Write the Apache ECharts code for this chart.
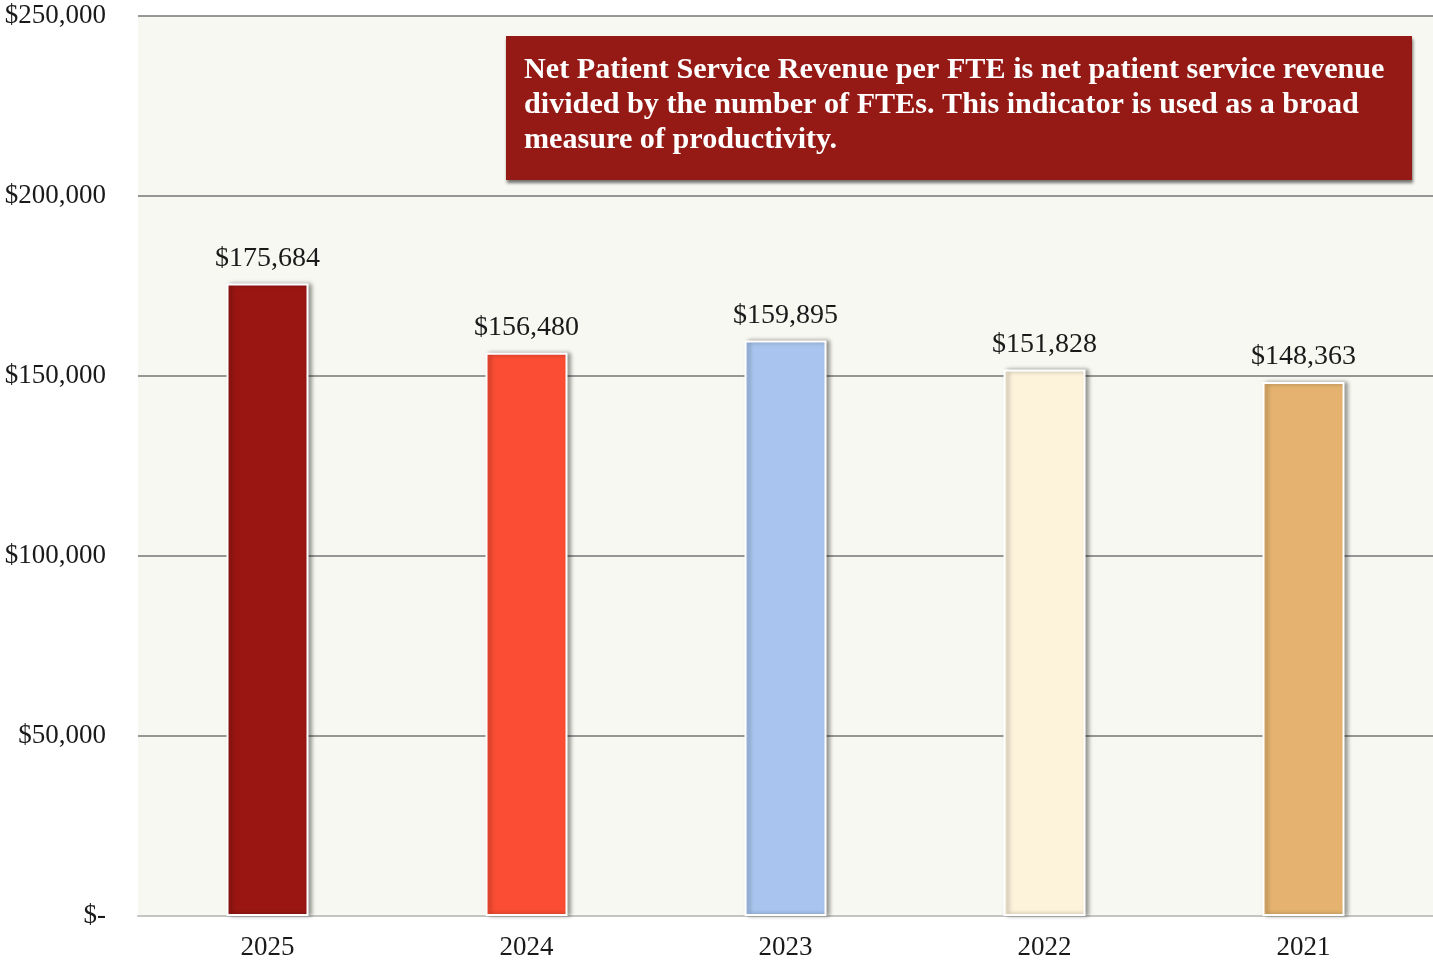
<!DOCTYPE html>
<html>
<head>
<meta charset="utf-8">
<script src="https://cdn.jsdelivr.net/npm/echarts@6/dist/echarts.min.js"></script>
<style>
  html, body { margin: 0; padding: 0; background: #ffffff; }
  #chart { width: 1433px; height: 961px; }
</style>
</head>
<body>
<div id="chart"></div>
<script>
// Net patient service revenue per FTE, by fiscal year
const years = ['2025', '2024', '2023', '2022', '2021'];
const revenuePerFte = [175684, 156480, 159895, 151828, 148363];
const barColors = ['#9a1613', '#fb4d33', '#a9c5ef', '#fdf2da', '#e5b36f'];
const noteLines = [
  'Net Patient Service Revenue per FTE is net patient service revenue',
  'divided by the number of FTEs. This indicator is used as a broad',
  'measure of productivity.'
];

const serif = '"Liberation Serif", "Times New Roman", serif';

function money(v) {
  if (v === 0) return '$-';
  return '$' + v.toLocaleString('en-US');
}

const chart = echarts.init(document.getElementById('chart'), null, { renderer: 'canvas' });

chart.setOption({
  backgroundColor: '#ffffff',
  animation: false,
  grid: {
    left: 138, right: 0, top: 16, bottom: 45,
    outerBoundsMode: 'none',
    containLabel: false,
    show: true, backgroundColor: '#f8f8f2', borderWidth: 0
  },
  xAxis: {
    type: 'category',
    data: years,
    axisLine: { show: true, lineStyle: { color: '#c4c4c0', width: 2 } },
    axisTick: { show: false },
    axisLabel: { fontFamily: serif, fontSize: 27, color: '#1a1a1a', margin: 18 }
  },
  yAxis: {
    type: 'value',
    min: 0, max: 250000, interval: 50000,
    axisLine: { show: false },
    axisTick: { show: false },
    splitLine: { lineStyle: { color: '#767676', width: 1.5 } },
    axisLabel: {
      fontFamily: serif, fontSize: 27, color: '#1a1a1a', margin: 32,
      formatter: money
    }
  },
  series: [{
    type: 'bar',
    data: revenuePerFte.map((v, i) => ({ value: v, itemStyle: { color: barColors[i] } })),
    barWidth: 82,
    itemStyle: {
      borderColor: '#ffffff', borderWidth: 2,
      shadowColor: 'rgba(0,0,0,0.35)', shadowBlur: 4, shadowOffsetX: 3, shadowOffsetY: 0
    },
    label: {
      show: true, position: 'top', distance: 11,
      fontFamily: serif, fontSize: 28, color: '#1a1a1a',
      formatter: p => money(p.value)
    }
  }],
  graphic: [
    {
      type: 'rect',
      shape: { x: 506, y: 36, width: 906, height: 144 },
      style: {
        fill: '#951915',
        shadowColor: 'rgba(0,0,0,0.55)', shadowBlur: 3, shadowOffsetX: 1, shadowOffsetY: 3
      },
      z: 10
    },
    {
      type: 'text',
      x: 524, y: 53,
      scaleX: 1.04,
      style: {
        text: noteLines.join('\n'),
        font: 'bold 29px ' + serif,
        fill: '#ffffff',
        lineHeight: 35
      },
      z: 11
    }
  ]
});
</script>
</body>
</html>
